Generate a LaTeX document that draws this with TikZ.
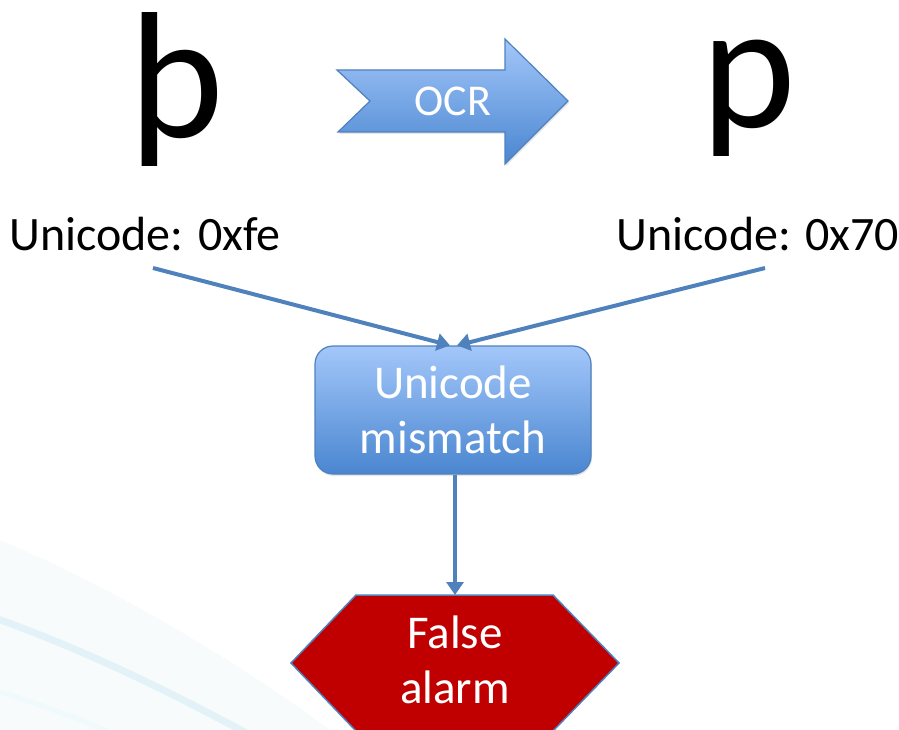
\documentclass[tikz,border=0pt]{standalone}
\usepackage{fontspec}
\setmainfont{Carlito}
\usetikzlibrary{arrows.meta,shadows,calc}

\definecolor{linkblue}{RGB}{79,129,189}
\definecolor{boxtop}{RGB}{163,199,250}
\definecolor{boxbot}{RGB}{74,134,208}
\definecolor{alarmred}{RGB}{192,0,0}
\definecolor{swoosh}{RGB}{226,242,247}
\definecolor{haze}{RGB}{247,251,252}

\tikzset{
  glyph/.style={anchor=base, inner sep=0pt, font=\fontsize{180}{180}\selectfont},
  codelabel/.style={anchor=base, inner sep=0pt, font=\fontsize{48}{56}\selectfont},
  whitetext/.style={text=white, align=center, font=\fontsize{47}{55}\selectfont},
  bluebox/.style={draw=linkblue, line width=1.2pt, top color=boxtop, bottom color=boxbot},
  link/.style={draw=linkblue, line width=4pt, -{Triangle[width=17pt,length=13pt]}},
}

\begin{document}
\begin{tikzpicture}[x=1pt,y=-1pt]
\useasboundingbox (0,0) rectangle (899,730);

% faint theme swoosh in the lower left corner
\fill[haze] (0,540) .. controls (120,590) and (250,670) .. (330,730) -- (0,730) -- cycle;
\draw[swoosh, line width=7pt] (-5,618) .. controls (90,652) and (170,692) .. (250,735);
\draw[swoosh!50, line width=5pt] (-5,690) .. controls (40,705) and (80,718) .. (115,735);

% the two characters
\node[glyph] (thorn) at (177,138) {þ};
\node[glyph, text height=95pt] (pchar) at (749,128) {p};

% notched OCR arrow
\path[bluebox, drop shadow={opacity=0.2, shadow xshift=1pt, shadow yshift=-2pt}]
  (337,70) -- (505,70) -- (505,39) -- (568,101) -- (505,164) -- (505,132)
  -- (338,132) -- (370,101) -- cycle;
\node[text=white, font=\fontsize{44}{50}\selectfont] (ocr) at (453,101) {OCR};

% code point labels
\node[codelabel] (codeL) at (145,250) {Unicode: 0xfe};
\node[codelabel] (codeR) at (758,250) {Unicode: 0x70};
\coordinate (fromL) at (153,268);
\coordinate (fromR) at (765,268);

% mismatch box
\node[bluebox, whitetext, rounded corners=18pt, minimum width=276pt, minimum height=128pt,
      drop shadow={opacity=0.2, shadow xshift=1pt, shadow yshift=-2pt}]
  (mis) at (453,410) {Unicode\\mismatch};

% false alarm hexagon
\path[fill=alarmred, draw=linkblue, line width=1.5pt]
  (356,595) -- (553,595) -- (619,663) -- (553,731) -- (356,731) -- (291,663) -- cycle;
\coordinate (alarmtop) at (455,595);
\node[whitetext] (alarm) at (455,660) {False\\alarm};

% connectors
\draw[link] (fromL) -- ($(mis.north)+(-3,0)$);
\draw[link] (fromR) -- ($(mis.north)+(4,0)$);
\draw[link] (mis.south -| alarmtop) -- (alarmtop);
\end{tikzpicture}
\end{document}
